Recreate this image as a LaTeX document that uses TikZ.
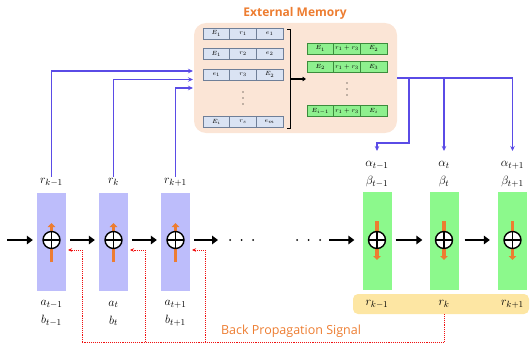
\documentclass[tikz,border=0pt]{standalone}
\usepackage{fontspec}
\newfontfamily\headfont{Open Sans}
\usetikzlibrary{arrows.meta,calc}
\definecolor{memfill}{HTML}{FBE5D6}
\definecolor{orangetxt}{HTML}{ED7D31}
\definecolor{lavender}{HTML}{BDBDFB}
\definecolor{mint}{HTML}{8CF98C}
\definecolor{cellblue}{HTML}{DAE3F3}
\definecolor{cellblueline}{HTML}{6F7F98}
\definecolor{cellgreen}{HTML}{8EF08E}
\definecolor{cellgreenline}{HTML}{3C8C3C}
\definecolor{linkblue}{HTML}{5A4BE6}
\definecolor{sigred}{HTML}{F01010}
\definecolor{bandfill}{HTML}{FDE6A3}

% one row of three cells in a memory table
\newcommand\tabrow[6]{% style, name, y, first, second, third
  \node[#1] (#2a) at (\colA,#3) {$#4$};
  \node[#1] (#2b) at (\colB,#3) {$#5$};
  \node[#1] (#2c) at (\colC,#3) {$#6$};}

\begin{document}
\begin{tikzpicture}[x=1pt,y=-1pt,
  memcell/.style={draw=cellblueline, fill=cellblue, line width=0.5pt,
    minimum width=26.7pt, minimum height=11pt, inner sep=0pt,
    font=\fontsize{6.5}{6.5}\selectfont},
  newcell/.style={memcell, draw=cellgreenline, fill=cellgreen},
  encbox/.style={fill=lavender, minimum width=29pt, minimum height=98pt, inner sep=0pt},
  decbox/.style={encbox, fill=mint},
  plusnode/.style={circle, draw=black, line width=1.4pt, fill=white,
    minimum size=17pt, inner sep=0pt,
    path picture={\draw[line width=1.1pt]
      (path picture bounding box.north) -- (path picture bounding box.south)
      (path picture bounding box.west) -- (path picture bounding box.east);}},
  flow/.style={line width=2.8pt, -{Triangle[length=6pt,width=8.5pt]}},
  gate/.style={line width=3.5pt, orangetxt, -{Triangle[length=4pt,width=7.5pt]}},
  link/.style={draw=linkblue, line width=1.4pt, -{Stealth[length=5pt,width=4.5pt]}},
  backsig/.style={draw=sigred, line width=0.9pt, densely dotted, -{Stealth[length=4pt,width=3.5pt]}},
  lab/.style={font=\fontsize{13}{18}\selectfont, align=center, inner sep=1pt},
  dotmark/.style={circle, fill=black, minimum size=2pt, inner sep=0pt},
]
\useasboundingbox (0,0) rectangle (530,345);

% ---------------- external memory ----------------
\node[font=\headfont\bfseries\fontsize{12}{14}\selectfont, text=orangetxt] (title) at (295,13) {External Memory};
\node[fill=memfill, rounded corners=12pt, minimum width=203pt, minimum height=110pt, inner sep=0pt] (mem) at (295.5,78) {};

\def\colA{216.3}\def\colB{243}\def\colC{269.7}
\tabrow{memcell}{o1}{33.5}{E_1}{r_1}{e_1}
\tabrow{memcell}{o2}{54}{E_1}{r_2}{e_2}
\tabrow{memcell}{o3}{74.5}{e_1}{r_3}{E_2}
\tabrow{memcell}{o4}{122}{E_i}{r_s}{e_m}
\foreach \yy in {92,98,104} \fill (243,\yy) circle (0.7pt);

\def\colA{320.3}\def\colB{347}\def\colC{373.7}
\tabrow{newcell}{n1}{48.5}{E_1}{r_1+r_3}{E_2}
\tabrow{newcell}{n2}{67}{E_2}{r_1+r_3}{E_3}
\tabrow{newcell}{n3}{111}{E_{i-1}}{r_1+r_3}{E_i}
\foreach \yy in {83,89,95} \fill (347,\yy) circle (0.7pt);

% bracket collecting the stored rows
\coordinate (brT) at (290,29);
\coordinate (brB) at (290,128);
\coordinate (brM) at (290,79);
\coordinate (brE) at (306,79);
\draw[line width=0.8pt] ($(brT)+(-3,0)$) -- (brT) -- (brB) -- ($(brB)+(-3,0)$);
\draw[line width=1.6pt, -{Triangle[length=3.5pt,width=4.5pt]}] (brM) -- (brE);

% ---------------- encoder chain ----------------
\node[encbox] (b1) at (51.5,242) {};
\node[encbox] (b2) at (113.5,242) {};
\node[encbox] (b3) at (175.5,242) {};
\foreach \i/\xx in {1/51.5,2/113.5,3/175.5}{
  \coordinate (gu\i) at (\xx,262);
  \coordinate (gv\i) at (\xx,223);
  \draw[gate] (gu\i) -- (gv\i);
  \node[plusnode] (p\i) at (\xx,240) {};
}
\node[lab] (rl1) at (51.5,182) {$r_{k-1}$};
\node[lab] (rl2) at (113.5,182) {$r_{k}$};
\node[lab] (rl3) at (175.5,182) {$r_{k+1}$};
\node[lab] (ab1) at (51.5,313.5) {$a_{t-1}$\\$b_{t-1}$};
\node[lab] (ab2) at (113.5,313.5) {$a_{t}$\\$b_{t}$};
\node[lab] (ab3) at (175.5,313.5) {$a_{t+1}$\\$b_{t+1}$};

% ---------------- decoder chain ----------------
\node[decbox] (g1) at (377,241) {};
\node[decbox] (g2) at (444,241) {};
\node[decbox] (g3) at (512.5,241) {};
\foreach \i/\xx in {1/377,2/444,3/512.5}{
  \coordinate (hu\i) at (\xx,221);
  \coordinate (hv\i) at (\xx,260);
  \draw[gate] (hu\i) -- (hv\i);
  \node[plusnode] (q\i) at (\xx,240) {};
}
\node[lab] (al1) at (377,174) {$\alpha_{t-1}$\\$\beta_{t-1}$};
\node[lab] (al2) at (444,174) {$\alpha_{t}$\\$\beta_{t}$};
\node[lab] (al3) at (512.5,174) {$\alpha_{t+1}$\\$\beta_{t+1}$};

\node[fill=bandfill, rounded corners=5pt, minimum width=176pt, minimum height=20pt, inner sep=0pt] (band) at (441,304) {};
\node[lab] (rb1) at (377,304) {$r_{k-1}$};
\node[lab] (rb2) at (444,304) {$r_{k}$};
\node[lab] (rb3) at (512.5,304) {$r_{k+1}$};

% ---------------- horizontal flow ----------------
\coordinate (in) at (7,240);
\coordinate (outA) at (218,240);
\coordinate (inB) at (329,240);
\foreach \xx [count=\j] in {230,241.5,253}
  \node[dotmark] (da\j) at (\xx,240) {};
\foreach \xx [count=\j] in {297,308.5,320}
  \node[dotmark] (db\j) at (\xx,240) {};
\draw[flow, shorten >=4pt] (in) -- (b1.west |- in);
\draw[flow, shorten <=4pt, shorten >=4pt] (b1.east |- in) -- (b2.west |- in);
\draw[flow, shorten <=4pt, shorten >=4pt] (b2.east |- in) -- (b3.west |- in);
\draw[flow, shorten <=4pt] (b3.east |- in) -- (outA);
\draw[flow, shorten >=8pt] (inB) -- (g1.west |- in);
\draw[flow, shorten <=4pt, shorten >=7pt] (g1.east |- in) -- (g2.west |- in);
\draw[flow, shorten <=6pt, shorten >=8pt] (g2.east |- in) -- (g3.west |- in);

% ---------------- memory writes ----------------
\coordinate (w1) at (193,71);
\coordinate (w2) at (193,79.5);
\coordinate (w3) at (193,88);
\draw[link] (rl1.north) |- (w1);
\draw[link] (rl2.north) |- (w2);
\draw[link] (rl3.north) |- (w3);

% ---------------- memory reads ----------------
\coordinate (rd) at (mem.east);
\coordinate (kn1) at (409,78);
\coordinate (kn2) at (409,143);
\coordinate (tip1) at (377,151);
\coordinate (tip2) at (444,151);
\coordinate (tip3) at (512.5,151);
\draw[link] (rd) -| (tip3);
\draw[link] (rd -| tip2) -- (tip2);
\draw[link] (kn1) -- (kn2) -| (tip1);

% ---------------- back propagation ----------------
\coordinate (bs0) at (444,314);
\coordinate (bsL) at (82,342);
\coordinate (bs2) at (145,342);
\coordinate (bs3) at (205,342);
\coordinate (t1) at (68,250);
\coordinate (t2) at (130,250);
\coordinate (t3) at (192,250);
\draw[backsig, -] (bs0) |- (bsL);
\draw[backsig] (bsL) |- (t1);
\draw[backsig] (bs2) |- (t2);
\draw[backsig] (bs3) |- (t3);
\node[font=\headfont\fontsize{12.5}{14}\selectfont, text=orangetxt] (bplab) at (291,331) {Back Propagation Signal};
\end{tikzpicture}
\end{document}
